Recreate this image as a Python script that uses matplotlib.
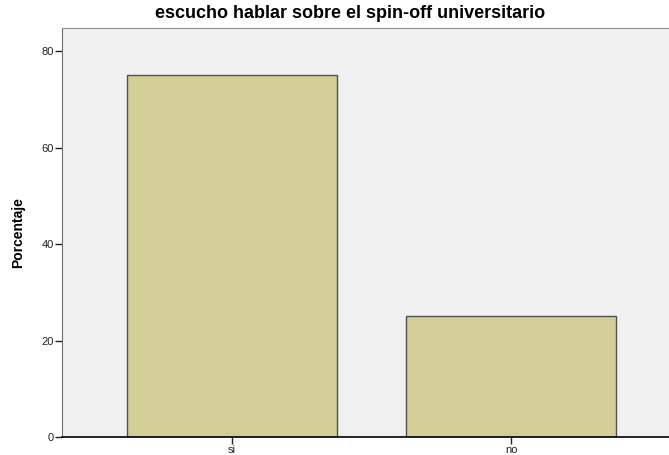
import matplotlib.pyplot as plt

categories = ["si", "no"]
percentages = [75.0, 25.0]
y_ticks = [0, 20, 40, 60, 80]

plt.rcParams['font.family'] = ['Liberation Sans', 'DejaVu Sans']

fig = plt.figure(figsize=(6.69, 4.55), dpi=100)
ax = fig.add_axes([62 / 669, 18 / 455, 1 - 62 / 669, (437 - 28) / 455])
ax.set_facecolor("#f0f0f0")

x = range(len(categories))
ax.bar(x, percentages, width=0.75, color="#d3ce97", edgecolor="#505050", linewidth=1.0)

ax.set_xticks(list(x))
ax.set_xticklabels(categories, fontsize=8)
ax.set_yticks(y_ticks)
ax.set_yticklabels([str(t) for t in y_ticks], fontsize=8)
ax.set_xlim(-0.609, 1.566)
ax.set_ylim(0, 84.8)

ax.tick_params(axis="both", direction="out", length=5, width=1, pad=1, colors="#222222")
ax.spines["left"].set_color("#707070")
ax.spines["top"].set_color("#909090")
ax.spines["right"].set_visible(False)
ax.spines["bottom"].set_color("black")
ax.spines["bottom"].set_linewidth(1.2)

ax.set_ylabel("Porcentaje", fontsize=10, fontweight="bold", labelpad=12)

# title sits a bit left of the axes centre, as in the original
fig.text(350 / 669, 1 - 14 / 455, "escucho hablar sobre el spin-off universitario",
         fontsize=13, fontweight="bold", ha="center", va="center")

fig.savefig("out.png", dpi=100)
